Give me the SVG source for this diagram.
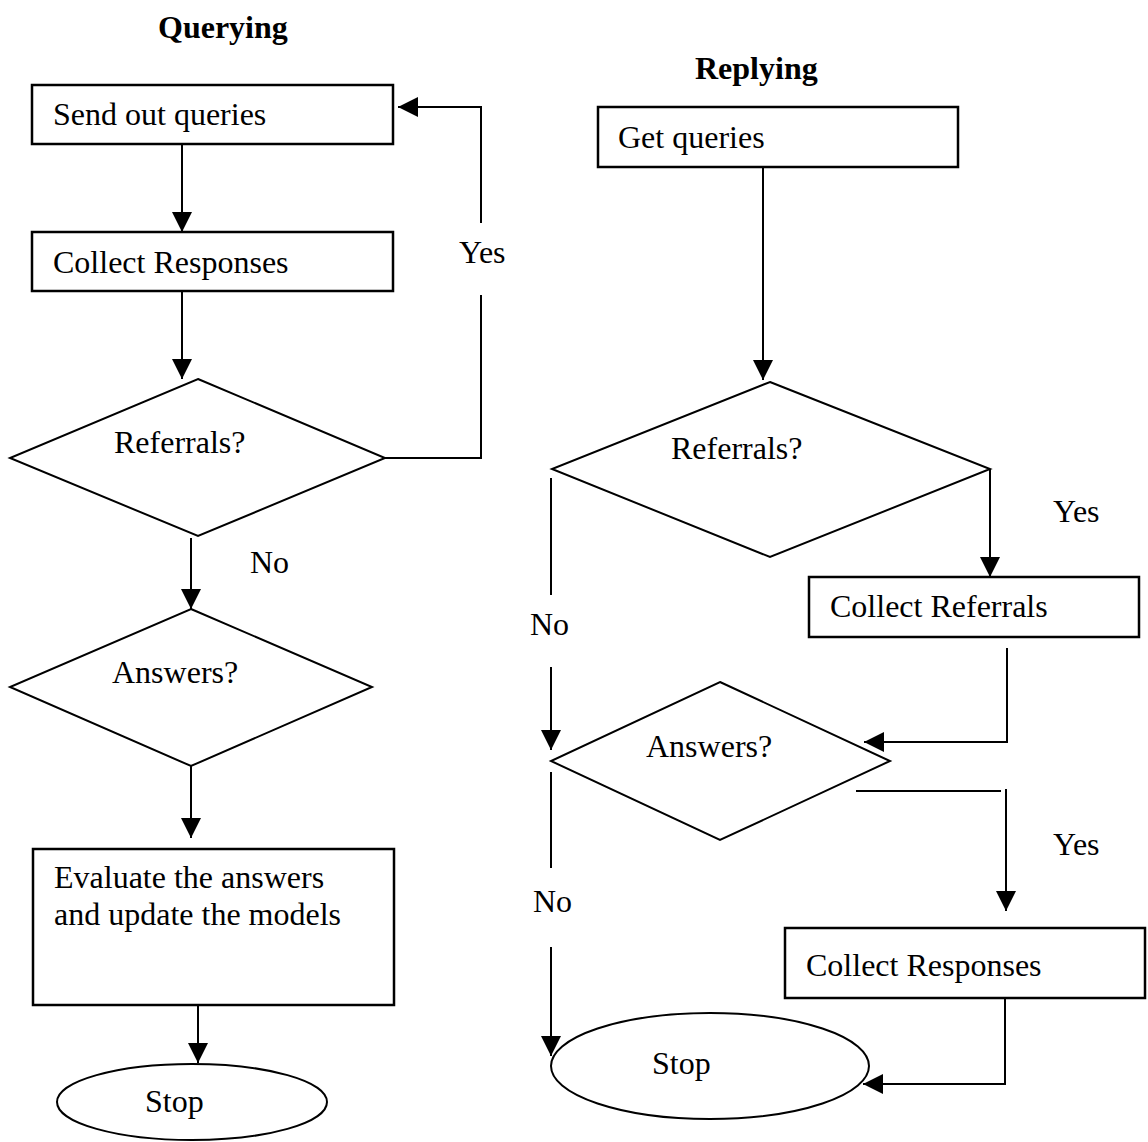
<svg xmlns="http://www.w3.org/2000/svg" width="1148" height="1142" viewBox="0 0 1148 1142">
<style>
text{font-family:"Liberation Serif","Times New Roman",serif;font-size:32px;fill:#000}
.title{font-weight:bold}
.box{fill:#fff;stroke:#000;stroke-width:2.5}
.shape{fill:#fff;stroke:#000;stroke-width:2}
.ln{fill:none;stroke:#000;stroke-width:2}
.arr{fill:none;stroke:#000;stroke-width:2;marker-end:url(#ah)}
</style>
<defs>
<marker id="ah" markerUnits="userSpaceOnUse" markerWidth="20" markerHeight="20" viewBox="0 0 20 20" refX="20" refY="10" orient="auto">
<path d="M0,0 L20,10 L0,20 z" fill="#000"/>
</marker>
</defs>
<rect width="1148" height="1142" fill="#fff"/>
<text class="title" x="158" y="38">Querying</text>
<text class="title" x="695" y="79">Replying</text>

<g id="connectors">
<line class="arr" x1="182" y1="144" x2="182" y2="232"/>
<line class="arr" x1="182" y1="291" x2="182" y2="379"/>
<polyline class="ln" points="385,458 481,458 481,295"/>
<polyline class="arr" points="481,223 481,107 398,107"/>
<line class="arr" x1="191" y1="538" x2="191" y2="609"/>
<line class="arr" x1="191" y1="766" x2="191" y2="838"/>
<line class="arr" x1="198" y1="1005" x2="198" y2="1063"/>

<line class="arr" x1="763" y1="167" x2="763" y2="380"/>
<line class="arr" x1="990" y1="469" x2="990" y2="577"/>
<line class="ln" x1="551" y1="478" x2="551" y2="595"/>
<line class="arr" x1="551" y1="667" x2="551" y2="750"/>
<polyline class="arr" points="1007,648 1007,742 864,742"/>
<line class="ln" x1="856" y1="791" x2="1001" y2="791"/>
<line class="arr" x1="1006" y1="789" x2="1006" y2="911"/>
<line class="ln" x1="551" y1="772" x2="551" y2="868"/>
<line class="arr" x1="551" y1="947" x2="551" y2="1056"/>
<polyline class="arr" points="1005,998 1005,1084 863,1084"/>
</g>

<g id="q-send">
<rect class="box" x="32" y="85" width="361" height="59"/>
<text x="53" y="125">Send out queries</text>
</g>
<g id="q-collect">
<rect class="box" x="32" y="232" width="361" height="59"/>
<text x="53" y="273">Collect Responses</text>
</g>
<g id="q-referrals">
<polygon class="shape" points="198,379 385,458 198,536 10,458"/>
<text x="114" y="453">Referrals?</text>
</g>
<g id="q-answers">
<polygon class="shape" points="191,609 372,687 191,766 10,687"/>
<text x="112" y="683">Answers?</text>
</g>
<g id="q-evaluate">
<rect class="box" x="33" y="849" width="361" height="156"/>
<text x="54" y="888">Evaluate the answers</text>
<text x="54" y="925">and update the models</text>
</g>
<g id="q-stop">
<ellipse class="shape" cx="192" cy="1102" rx="135" ry="38"/>
<text x="145" y="1112">Stop</text>
</g>
<text x="459" y="263">Yes</text>
<text x="250" y="573">No</text>

<g id="r-get">
<rect class="box" x="598" y="107" width="360" height="60"/>
<text x="618" y="148">Get queries</text>
</g>
<g id="r-referrals">
<polygon class="shape" points="770,382 990,469 770,557 552,469"/>
<text x="671" y="459">Referrals?</text>
</g>
<g id="r-collect-ref">
<rect class="box" x="809" y="577" width="330" height="60"/>
<text x="830" y="617">Collect Referrals</text>
</g>
<g id="r-answers">
<polygon class="shape" points="720,682 890,761 720,840 551,761"/>
<text x="646" y="757">Answers?</text>
</g>
<g id="r-collect-resp">
<rect class="box" x="785" y="928" width="360" height="70"/>
<text x="806" y="976">Collect Responses</text>
</g>
<g id="r-stop">
<ellipse class="shape" cx="710" cy="1066" rx="159" ry="53"/>
<text x="652" y="1074">Stop</text>
</g>
<text x="1053" y="522">Yes</text>
<text x="1053" y="855">Yes</text>
<text x="530" y="635">No</text>
<text x="533" y="912">No</text>
</svg>
